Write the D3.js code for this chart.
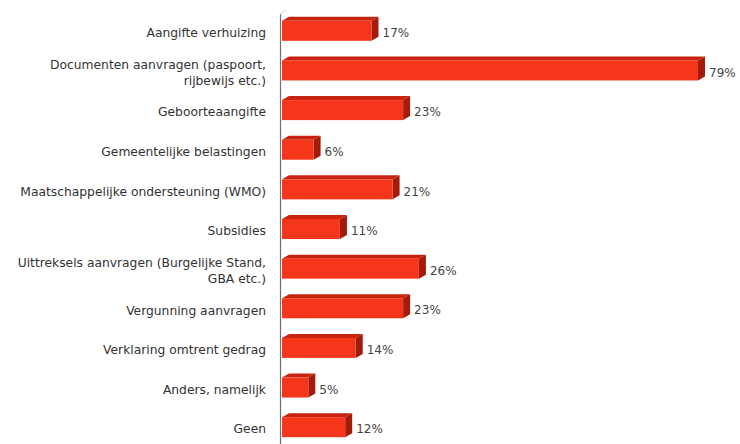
<!DOCTYPE html>
<html><head><meta charset="utf-8">
<script src="https://cdnjs.cloudflare.com/ajax/libs/d3/7.8.5/d3.min.js"></script>
<style>body{margin:0;background:#fff;}svg{display:block;}</style>
</head><body>
<script>
const categories = [
  ["Aangifte verhuizing"],
  ["Documenten aanvragen (paspoort,", "rijbewijs etc.)"],
  ["Geboorteaangifte"],
  ["Gemeentelijke belastingen"],
  ["Maatschappelijke ondersteuning (WMO)"],
  ["Subsidies"],
  ["Uittreksels aanvragen (Burgelijke Stand,", "GBA etc.)"],
  ["Vergunning aanvragen"],
  ["Verklaring omtrent gedrag"],
  ["Anders, namelijk"],
  ["Geen"]
];
const values = [17, 79, 23, 6, 21, 11, 26, 23, 14, 5, 12];
const valueLabels = values.map(v => v + "%");

const W = 740, H = 444;
const x0 = 282;
const dx = 7, dy = 4;
const barH = 20;
const svg = d3.select("body").append("svg").attr("width", W).attr("height", H);

const x = d3.scaleLinear().domain([0, 79]).range([x0, x0 + 416]);
const y = d3.scaleBand().domain(d3.range(categories.length)).range([13, 449]).paddingInner(0);

const font = "DejaVu Sans, Verdana, sans-serif";

// axis line
svg.append("line").attr("x1", 280.5).attr("x2", 280.5).attr("y1", 14).attr("y2", H)
  .attr("stroke", "#6f6f6f").attr("stroke-width", 1.2);
svg.append("line").attr("x1", 280.5).attr("x2", 286).attr("y1", 14).attr("y2", 10)
  .attr("stroke", "#d0d0d0").attr("stroke-width", 1);

const g = svg.append("g");
values.forEach((v, i) => {
  const cy = y(i) + y.bandwidth() / 2;
  const top = cy - 12;
  const xe = x(v);
  // top face
  g.append("path").attr("d", `M${x0},${top} L${x0 + dx},${top - dy} L${xe + dx},${top - dy} L${xe},${top} Z`)
    .attr("fill", "#c8230f");
  // right face
  g.append("path").attr("d", `M${xe},${top} L${xe + dx},${top - dy} L${xe + dx},${top - dy + barH} L${xe},${top + barH} Z`)
    .attr("fill", "#a51b0b");
  // front
  g.append("rect").attr("x", x0).attr("y", top).attr("width", xe - x0).attr("height", barH)
    .attr("fill", "#f6361b");
  // value label
  g.append("text").attr("x", xe + dx + 4).attr("y", cy).attr("dy", "0.35em")
    .attr("font-family", font).attr("font-size", 12).attr("fill", "#444")
    .text(valueLabels[i]);
  // category label
  const lines = categories[i];
  const t = g.append("text").attr("text-anchor", "end").attr("font-family", font)
    .attr("font-size", 12.3).attr("fill", "#333");
  lines.forEach((ln, k) => {
    t.append("tspan").attr("x", 266).attr("y", cy + (k - (lines.length - 1) / 2) * 16).attr("dy", "0.35em").text(ln);
  });
});
</script>
</body></html>
